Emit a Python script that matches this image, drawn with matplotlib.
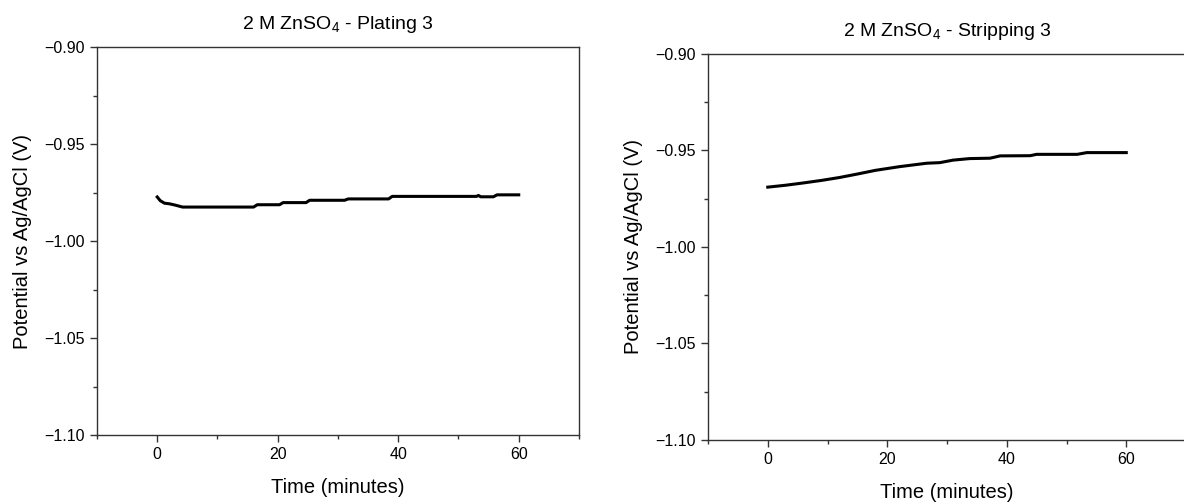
import matplotlib.pyplot as plt
from matplotlib.ticker import MultipleLocator, FuncFormatter

plt.rcParams["font.family"] = ["Liberation Sans", "DejaVu Sans"]
plt.rcParams["mathtext.default"] = "regular"

# -------------------------------------------------
# Data (time in minutes, potential in V)
# -------------------------------------------------

plating_time = [0.0, 0.5, 1.2, 2.0, 3.0, 4.2, 16.0, 16.6, 20.3, 20.9,
                24.7, 25.3, 31.1, 31.7, 38.4, 39.0, 53.0, 53.3, 53.7,
                55.8, 56.4, 60.0]
plating_v = [-0.9773, -0.9792, -0.9805, -0.9808, -0.9815, -0.9825,
             -0.9825, -0.9813, -0.9813, -0.9802, -0.9802, -0.9790,
             -0.9790, -0.9783, -0.9783, -0.9770, -0.9770, -0.9765,
             -0.9772, -0.9772, -0.9762, -0.9762]

stripping_time = [0.0, 3.0, 6.0, 9.0, 12.0, 15.0, 18.0, 22.0, 26.6,
                  28.8, 31.0, 33.8, 37.2, 38.9, 43.9, 45.0, 51.8, 53.4,
                  60.0]
stripping_v = [-0.9690, -0.9680, -0.9668, -0.9655, -0.9640, -0.9622,
               -0.9603, -0.9584, -0.9566, -0.9563, -0.9550, -0.9542,
               -0.9540, -0.9528, -0.9527, -0.9520, -0.9520, -0.9511,
               -0.9511]

titles = ["2 M ZnSO$_4$ - Plating 3", "2 M ZnSO$_4$ - Stripping 3"]


def minus_fmt(value, pos):
    return f"{value:.2f}".replace("-", "\u2212")


# -------------------------------------------------
# Figure
# -------------------------------------------------

fig = plt.figure(figsize=(11.84, 5.04), dpi=100)

ax1 = fig.add_axes([0.0819, 0.1369, 0.4071, 0.7698])
ax2 = fig.add_axes([0.598, 0.127, 0.4037, 0.7659])

series = [(plating_time, plating_v), (stripping_time, stripping_v)]

for ax, (t, v), title in zip([ax1, ax2], series, titles):

    ax.plot(t, v, color="black", linewidth=2.2)

    ax.set_xlim(-10, 70)
    ax.set_ylim(-1.10, -0.90)

    ax.xaxis.set_major_locator(MultipleLocator(20))
    ax.xaxis.set_minor_locator(MultipleLocator(10))
    ax.yaxis.set_major_locator(MultipleLocator(0.05))
    ax.yaxis.set_minor_locator(MultipleLocator(0.025))
    ax.yaxis.set_major_formatter(FuncFormatter(minus_fmt))

    ax.tick_params(which="major", direction="out", length=5, width=1,
                   labelsize=11.5, color="#333333")
    ax.tick_params(which="minor", direction="out", length=3, width=1,
                   color="#333333")

    for spine in ax.spines.values():
        spine.set_color("#333333")
        spine.set_linewidth(1)

    ax.set_title(title, fontsize=14, pad=13)
    ax.set_xlabel("Time (minutes)", fontsize=14.5, labelpad=12)
    ax.set_ylabel("Potential vs Ag/AgCl (V)", fontsize=14.5, labelpad=9)

fig.savefig("out.png", dpi=100)
